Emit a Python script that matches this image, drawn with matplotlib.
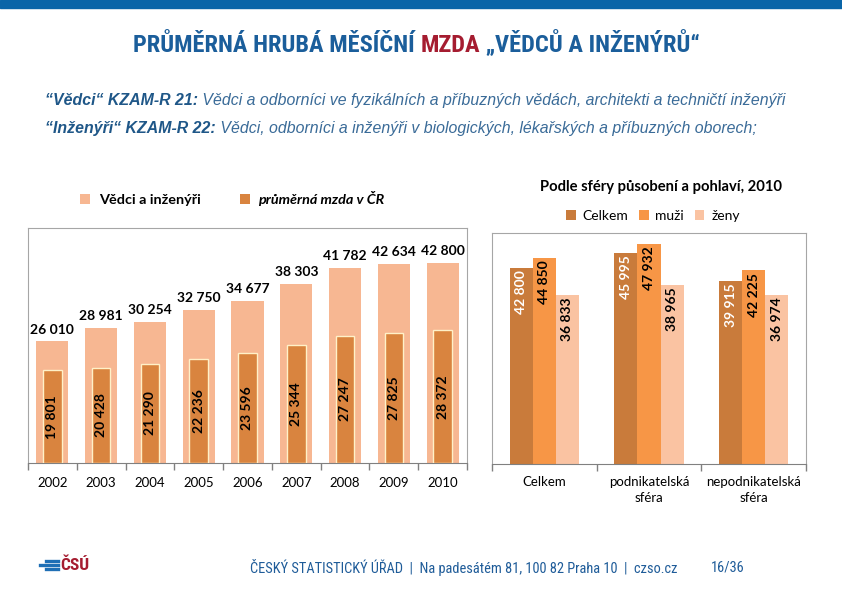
import matplotlib
matplotlib.use("Agg")
import matplotlib.pyplot as plt
from matplotlib import font_manager as fm
from matplotlib.text import Annotation
import numpy as np

# ---------------- data ----------------
years = ["2002", "2003", "2004", "2005", "2006", "2007", "2008", "2009", "2010"]
vedci = [26010, 28981, 30254, 32750, 34677, 38303, 41782, 42634, 42800]
prumer = [19801, 20428, 21290, 22236, 23596, 25344, 27247, 27825, 28372]

spheres = ["Celkem", "podnikatelská\nsféra", "nepodnikatelská\nsféra"]
celkem = [42800, 45995, 39915]
muzi = [44850, 47932, 42225]
zeny = [36833, 38965, 36974]

def fmt(v):
    return f"{v:,}".replace(",", " ")

names = {f.name for f in fm.fontManager.ttflist}
narrow = "Liberation Sans"
for cand in ["Liberation Sans Narrow", "DejaVu Sans Condensed", "Roboto Condensed",
             "Open Sans Condensed"]:
    if cand in names:
        narrow = cand
        break
cal = "Lato"

W, H = 842, 595
fig = plt.figure(figsize=(W / 100, H / 100), dpi=100)

def fx(x):
    return x / W

def fy(y):
    return 1 - y / H

def chain(prev, s, **kw):
    a = Annotation(s, xy=(1, 0), xycoords=prev, va="bottom", ha="left",
                   annotation_clip=False, **kw)
    fig.add_artist(a)
    return a

# header band
fig.patches.append(plt.Rectangle((0, fy(8)), 1, 8 / H, transform=fig.transFigure,
                                 color="#0A65A8", zorder=0))

# title
blue_t = "#1B5E9B"
tkw = dict(fontsize=17.6, fontweight="bold", family=narrow)
t1 = fig.text(fx(133), fy(45), "PRŮMĚRNÁ HRUBÁ MĚSÍČNÍ ", color=blue_t, va="center",
              ha="left", **tkw)
a2 = chain(t1, "MZDA", color="#A51C30", **tkw)
chain(a2, " „VĚDCŮ A INŽENÝRŮ“", color=blue_t, **tkw)

# subtitle lines
sub_b = "#1F5788"
sub_r = "#3A6B98"
skw = dict(fontsize=11.4, style="italic", family="Liberation Sans")
l1 = fig.text(fx(45), fy(100), "“Vědci“ KZAM-R 21:", fontweight="bold", color=sub_b,
              va="center", **skw)
chain(l1, " Vědci a odborníci ve fyzikálních a příbuzných vědách, architekti a techničtí inženýři",
      color=sub_r, **skw)
l2 = fig.text(fx(45), fy(128), "“Inženýři“ KZAM-R 22:", fontweight="bold", color=sub_b,
              va="center", **skw)
chain(l2, " Vědci, odborníci a inženýři v biologických, lékařských a příbuzných oborech;",
      color=sub_r, **skw)

# ---------------- left chart ----------------
c_light = "#F7B792"
c_dark = "#D9843F"
axL = fig.add_axes([fx(28), fy(463), (467 - 28) / W, (463 - 228) / H])
x = np.arange(len(years))
b1 = axL.bar(x, vedci, width=0.66, color=c_light, zorder=2)
b2 = axL.bar(x, prumer, width=0.38, color=c_dark, edgecolor="#FFF1C8", linewidth=1.0,
             zorder=3)
axL.set_xlim(-0.5, len(years) - 0.5)
axL.set_ylim(0, 50300)
axL.set_yticks([])
axL.set_xticks(np.arange(len(years) + 1) - 0.5)
axL.set_xticklabels([])
axL.set_xticks(x, minor=True)
axL.set_xticklabels(years, minor=True, fontsize=9.5, family=cal)
axL.tick_params(axis="x", which="major", length=5, color="#808080", width=1)
axL.tick_params(axis="x", which="minor", length=0, pad=10)
for s in ["left", "top", "right"]:
    axL.spines[s].set_color("#A6A6A6")
axL.spines["bottom"].set_color("#808080")
for xi, v in zip(x, vedci):
    axL.text(xi, v + 1200, fmt(v), ha="center", va="bottom", fontsize=10,
             fontweight="bold", family=cal)
for xi, v in zip(x, prumer):
    axL.text(xi, v / 2, fmt(v), ha="center", va="center", rotation=90, fontsize=10,
             fontweight="bold", family=cal, zorder=4)

legL = fig.legend(handles=[b1, b2], labels=["Vědci a inženýři", "průměrná mzda v ČR"],
                  loc="center left", bbox_to_anchor=(fx(80), fy(199)), ncol=2,
                  frameon=False, borderpad=0, borderaxespad=0, handlelength=0.7,
                  handleheight=0.7, handletextpad=0.6, columnspacing=2.7,
                  prop={"family": cal, "weight": "bold", "size": 10.4})
legL.get_texts()[1].set_style("italic")
for h in legL.legend_handles:
    h.set_edgecolor("none")

# ---------------- right chart ----------------
c_tot = "#C97B3B"
c_m = "#F79646"
c_z = "#FAC3A2"
axR = fig.add_axes([fx(492), fy(464), (806 - 492) / W, (464 - 233) / H])
xr = np.arange(len(spheres))
bw = 0.22
r1 = axR.bar(xr - bw, celkem, width=bw, color=c_tot, zorder=2)
r2 = axR.bar(xr, muzi, width=bw, color=c_m, zorder=2)
r3 = axR.bar(xr + bw, zeny, width=bw, color=c_z, zorder=2)
axR.set_xlim(-0.5, len(spheres) - 0.5)
axR.set_ylim(0, 50400)
axR.set_yticks([])
axR.set_xticks(np.arange(len(spheres) + 1) - 0.5)
axR.set_xticklabels([])
axR.set_xticks(xr, minor=True)
axR.set_xticklabels(spheres, minor=True, fontsize=9.5, family=cal, linespacing=1.35,
                    va="top")
axR.tick_params(axis="x", which="major", length=5, color="#808080", width=1)
axR.tick_params(axis="x", which="minor", length=0, pad=9)
for s in ["left", "top", "right"]:
    axR.spines[s].set_color("#A6A6A6")
axR.spines["bottom"].set_color("#808080")
for bars, vals, col in [(r1, celkem, "white"), (r2, muzi, "black"), (r3, zeny, "black")]:
    for b, v in zip(bars, vals):
        axR.text(b.get_x() + b.get_width() / 2, v - 500, fmt(v), ha="center", va="top",
                 rotation=90, fontsize=10, fontweight="bold", family=cal, color=col,
                 zorder=4)

fig.text(fx(661), fy(187), "Podle sféry působení a pohlaví, 2010", ha="center",
         va="center", fontsize=10.6, fontweight="bold", family=cal)
legR = fig.legend(handles=[r1, r2, r3], labels=["Celkem", "muži", "ženy"],
                  loc="center left", bbox_to_anchor=(fx(566), fy(216)), ncol=3,
                  frameon=False, borderpad=0, borderaxespad=0, handlelength=0.7,
                  handleheight=0.7, handletextpad=0.5, columnspacing=0.75,
                  prop={"family": cal, "size": 10})

# ---------------- footer ----------------
foot_c = "#1F5C99"
for yy, x0 in [(561, 46), (565, 40), (569, 46)]:
    fig.add_artist(plt.Line2D([fx(x0), fx(58)], [fy(yy), fy(yy)], color="#1F6FB5", lw=2.4))
fig.text(fx(60), fy(565), "ČSÚ", fontsize=12.5, fontweight="bold", color="#A51C30",
         family=narrow, va="center")
fig.text(fx(250), fy(567),
         "ČESKÝ STATISTICKÝ ÚŘAD  |  Na padesátém 81, 100 82 Praha 10  |  czso.cz",
         fontsize=10.4, color=foot_c, family=narrow, va="center")
fig.text(fx(711), fy(567), "16/36", fontsize=10.4, color=foot_c, family=narrow, va="center")

fig.savefig("out.png", dpi=100)
